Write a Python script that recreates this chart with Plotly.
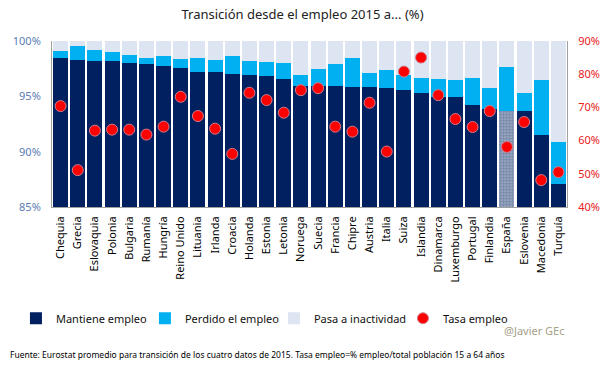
import plotly.graph_objects as go

paises = ["Chequia", "Grecia", "Eslovaquia", "Polonia", "Bulgaria", "Rumanía", "Hungría",
          "Reino Unido", "Lituania", "Irlanda", "Croacia", "Holanda", "Estonia", "Letonia",
          "Noruega", "Suecia", "Francia", "Chipre", "Austria", "Italia", "Suiza", "Islandia",
          "Dinamarca", "Luxemburgo", "Portugal", "Finlandia", "España", "Eslovenia",
          "Macedonia", "Turquía"]
mantiene = [98.43, 98.28, 98.19, 98.19, 98.01, 97.95, 97.77, 97.56, 97.20, 97.20, 97.02,
            96.93, 96.84, 96.57, 95.93, 95.93, 95.93, 95.84, 95.84, 95.75, 95.57, 95.30,
            94.94, 94.94, 94.22, 93.86, 93.68, 93.68, 91.51, 87.08]
perdido = [0.67, 1.30, 1.00, 0.79, 0.73, 0.51, 0.88, 0.81, 1.26, 1.08, 1.63, 1.26, 1.26,
           1.44, 1.00, 1.54, 1.99, 2.62, 1.27, 1.63, 1.36, 1.36, 1.63, 1.54, 2.44, 1.89,
           3.97, 1.62, 4.97, 3.80]
tasa = [70.4, 51.1, 63.0, 63.3, 63.3, 61.8, 64.2, 73.2, 67.4, 63.6, 56.0, 74.4, 72.2, 68.4,
        75.2, 75.8, 64.2, 62.7, 71.4, 56.7, 80.8, 85.0, 73.7, 66.5, 64.1, 68.9, 58.1, 65.6,
        48.1, 50.5]
inactividad = [round(100 - m - p, 2) for m, p in zip(mantiene, perdido)]

ticks_izq = [85, 90, 95, 100]
ticks_der = [40, 50, 60, 70, 80, 90]

DARK = "#002060"
BLUE = "#00B0F0"
PALE = "#DCE5F1"

shapes = ["." if p == "España" else "" for p in paises]

fig = go.Figure()
fig.add_trace(go.Bar(x=paises, y=mantiene, name="Mantiene empleo",
                     marker=dict(color=DARK, line_width=0,
                                 pattern=dict(shape=shapes, fgcolor=DARK, bgcolor="white",
                                              size=3, solidity=0.85, fillmode="overlay"))))
fig.add_trace(go.Bar(x=paises, y=perdido, name="Perdido el empleo",
                     marker=dict(color=BLUE, line_width=0)))
fig.add_trace(go.Bar(x=paises, y=inactividad, name="Pasa a inactividad",
                     marker=dict(color=PALE, line_width=0)))
fig.add_trace(go.Scatter(x=paises, y=tasa, name="Tasa empleo", mode="markers", yaxis="y2",
                         marker=dict(color="#FF0000", size=11,
                                     line=dict(color="#D07C8C", width=1))))

font = "Noto Sans"
fig.update_layout(
    width=605, height=378,
    margin=dict(l=52, r=38, t=41, b=171, autoexpand=False),
    barmode="stack", bargap=0.12,
    plot_bgcolor="white", paper_bgcolor="white",
    font=dict(family=font, size=11, color="black"),
    title=dict(text="Transición desde el empleo 2015 a... (%)", x=0.5, xanchor="center",
               y=0.963, yanchor="middle", font=dict(size=13, color="#222222")),
    xaxis=dict(tickangle=-90, showline=True, linecolor="#A0A0A0", linewidth=1,
               range=[-0.5, len(paises) - 0.5], ticks="outside", ticklen=4,
               tickcolor="rgba(0,0,0,0)",
               tickfont=dict(size=11, color="black"), showgrid=False, automargin=False),
    yaxis=dict(range=[85, 100], tickmode="array", tickvals=ticks_izq,
               ticktext=[f"{v}%" for v in ticks_izq], automargin=False,
               showline=True, linecolor="#A0A0A0", showgrid=False, zeroline=False,
               tickfont=dict(size=11, color="#5B7DB3"), ticklabelstandoff=8),
    yaxis2=dict(range=[40, 90], tickmode="array", tickvals=ticks_der,
                ticktext=[f"{v}%" for v in ticks_der], automargin=False,
                overlaying="y", side="right", showline=True, linecolor="#A0A0A0",
                showgrid=False, zeroline=False,
                tickfont=dict(size=11, color="#E8201A"), ticklabelstandoff=8),
    legend=dict(orientation="h", x=-0.07, xanchor="left", y=-0.67, yanchor="middle",
                entrywidth=84, entrywidthmode="pixels", font=dict(size=11, color="#111111"),
                traceorder="normal", bgcolor="rgba(0,0,0,0)"),
    showlegend=True,
)

fig.add_annotation(text="@Javier GEc", xref="paper", yref="paper", x=1.0, y=-0.746,
                   xanchor="right", yanchor="middle", showarrow=False,
                   font=dict(size=11, color="#A6A088", family=font))
fig.add_annotation(text="Fuente: Eurostat promedio para transición de los cuatro datos de 2015. "
                        "Tasa empleo=% empleo/total población 15 a 64 años",
                   xref="paper", yref="paper", x=-0.085, y=-0.89, xanchor="left",
                   yanchor="middle", showarrow=False,
                   font=dict(size=8.5, color="black", family=font))

fig.write_html("out.html", config={"displayModeBar": False},
               post_script="document.body.style.margin='0';")
